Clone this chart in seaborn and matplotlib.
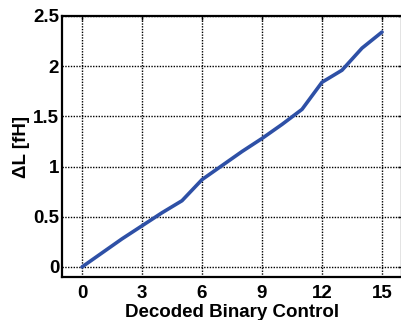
import matplotlib
matplotlib.use('Agg')
import matplotlib.pyplot as plt
import seaborn as sns
import pandas as pd

# Daten
codes = list(range(16))
delta_l = [0.0, 0.14, 0.28, 0.41, 0.54, 0.66, 0.87, 1.01,
           1.15, 1.28, 1.42, 1.57, 1.84, 1.96, 2.18, 2.34]
x_ticks = [0, 3, 6, 9, 12, 15]
y_ticks = [0, 0.5, 1, 1.5, 2, 2.5]
y_tick_labels = ['0', '0.5', '1', '1.5', '2', '2.5']

df = pd.DataFrame({'code': codes, 'dl': delta_l})

sns.set_style('white')
plt.rcParams['font.family'] = ['Liberation Sans', 'DejaVu Sans']
plt.rcParams['font.weight'] = 'bold'
plt.rcParams['text.color'] = 'black'
plt.rcParams['axes.labelcolor'] = 'black'

fig = plt.figure(figsize=(4.02, 3.20), dpi=100)
ax = fig.add_axes([62 / 402, 1 - 277 / 320, 1 - 62 / 402, (277 - 16) / 320])

sns.lineplot(data=df, x='code', y='dl', ax=ax, color='#2E50A6', linewidth=2.6)

ax.set_xlim(-1, 16)
ax.set_ylim(-0.1, 2.5)
ax.set_xticks(x_ticks)
ax.set_yticks(y_ticks)
ax.set_yticklabels(y_tick_labels)

ax.grid(True, color='black', linestyle=(0, (1, 1)), linewidth=1.0)
for s in ax.spines.values():
    s.set_color('black')
    s.set_linewidth(1.6)

ax.tick_params(direction='in', length=3, width=1, top=True, right=True,
               labelsize=13.5, colors='black')
ax.tick_params(axis='x', pad=6)
ax.tick_params(axis='y', pad=2)
for lbl in ax.get_xticklabels() + ax.get_yticklabels():
    lbl.set_fontweight('bold')

ax.set_xlabel('Decoded Binary Control', fontsize=13.5, fontweight='bold', labelpad=1)
ax.set_ylabel('ΔL [fH]', fontsize=13.5, fontweight='bold', labelpad=2)

fig.savefig('out.png', dpi=100)
